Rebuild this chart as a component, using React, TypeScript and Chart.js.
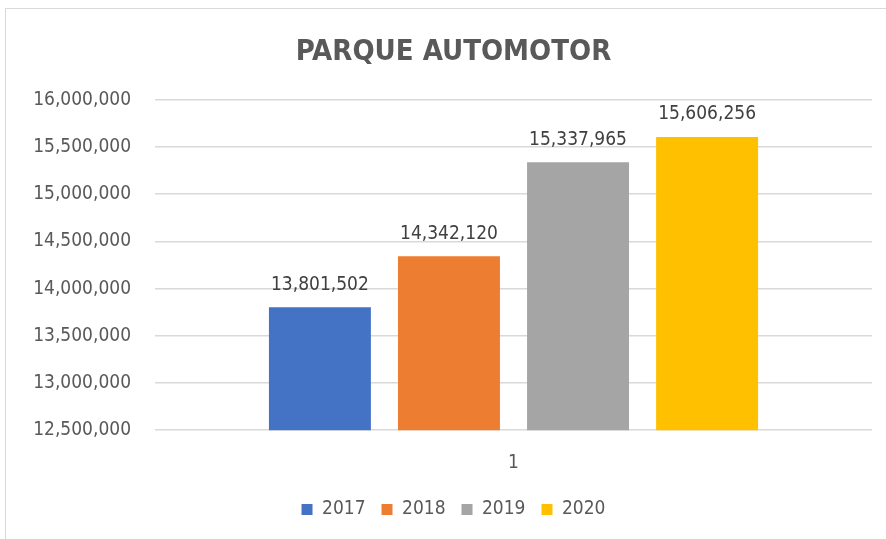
import React, { useEffect, useRef } from "react";
import { Chart, registerables } from "chart.js";

Chart.register(...registerables);

const categories = ["1"];
const seriesNames = ["2017", "2018", "2019", "2020"];
const seriesValues = [13801502, 14342120, 15337965, 15606256];
const seriesColors = ["#4472C4", "#ED7D31", "#A5A5A5", "#FFC000"];
const yMin = 12500000;
const yMax = 16000000;
const yStep = 500000;
const titleText = "PARQUE AUTOMOTOR";

const FONT = '"Liberation Sans Narrow", "DejaVu Sans Condensed", "Open Sans", sans-serif';
const TEXT = "#595959";
const fmt = (v: number) => Math.round(v).toLocaleString("en-US");

const dataLabels = {
  id: "dataLabels",
  afterDatasetsDraw(chart: any) {
    const ctx = chart.ctx;
    ctx.save();
    ctx.font = `19px ${FONT}`;
    ctx.fillStyle = "#404040";
    ctx.textAlign = "center";
    ctx.textBaseline = "bottom";
    chart.data.datasets.forEach((ds: any, i: number) => {
      const meta = chart.getDatasetMeta(i);
      meta.data.forEach((el: any, j: number) => {
        ctx.fillText(fmt(ds.data[j]), el.x, el.y - 13);
      });
    });
    ctx.restore();
  },
};

export default function App() {
  const ref = useRef<HTMLCanvasElement>(null);
  useEffect(() => {
    if (!ref.current) return;
    const chart = new Chart(ref.current, {
      type: "bar",
      data: {
        labels: categories,
        datasets: seriesNames.map((name, i) => ({
          label: name,
          data: [seriesValues[i]],
          backgroundColor: seriesColors[i],
          borderWidth: 0,
          barPercentage: 0.79,
          categoryPercentage: 0.72,
          yAxisID: "y",
        })),
      },
      options: {
        animation: false,
        responsive: false,
        maintainAspectRatio: false,
        layout: { padding: { left: 0, right: 0, top: 0, bottom: 10 } },
        plugins: {
          title: {
            display: true,
            text: titleText,
            color: TEXT,
            font: { family: FONT, size: 29, weight: "bold" },
            padding: { top: 35, bottom: 30 },
          },
          legend: {
            position: "bottom",
            labels: {
              color: TEXT,
              font: { family: FONT, size: 19 },
              boxWidth: 11,
              boxHeight: 11,
              padding: 16,
            },
          },
          tooltip: { enabled: false },
        },
        scales: {
          x: {
            grid: { display: false },
            border: { display: false },
            ticks: { color: TEXT, font: { family: FONT, size: 19 }, padding: 13 },
            afterFit: (s: any) => {
              s.height -= 3;
            },
          },
          y: {
            min: yMin,
            max: yMax,
            grid: { color: "#d9d9d9", lineWidth: 1.5, drawTicks: false },
            border: { display: false },
            ticks: {
              stepSize: yStep,
              color: TEXT,
              font: { family: FONT, size: 19 },
              padding: 24,
              callback: (v: any) => fmt(Number(v)),
            },
            afterFit: (s: any) => {
              s.width = 155;
            },
          },
          yRight: {
            position: "right",
            min: yMin,
            max: yMax,
            grid: { display: false },
            border: { display: false },
            ticks: { display: false },
            afterFit: (s: any) => {
              s.width = 35;
            },
          },
        },
      },
      plugins: [dataLabels],
    });
    return () => chart.destroy();
  }, []);
  return (
    <div style={{ position: "absolute", left: 0, top: 0, width: 886, height: 539, background: "#fff", overflow: "hidden" }}>
      <div
        style={{
          position: "absolute",
          left: 5,
          top: 8,
          width: 920,
          height: 560,
          borderLeft: "1px solid #d9d9d9",
          borderTop: "1px solid #d9d9d9",
          boxSizing: "border-box",
        }}
      />
      <canvas ref={ref} width={907} height={539} style={{ position: "absolute", left: 0, top: 0 }} />
    </div>
  );
}
